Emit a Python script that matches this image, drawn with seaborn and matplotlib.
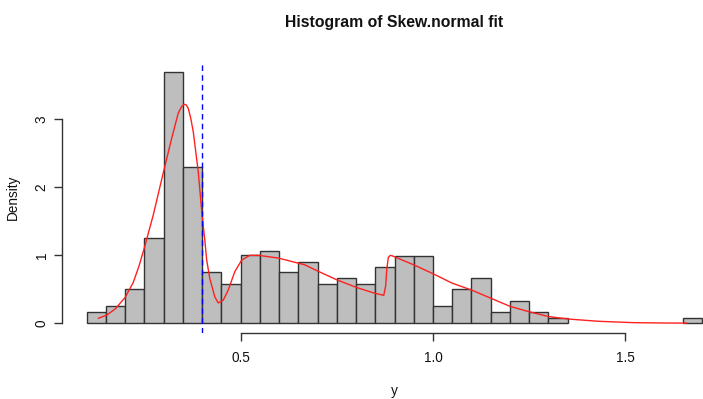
import numpy as np
import pandas as pd
import matplotlib
matplotlib.use("Agg")
import matplotlib.pyplot as plt
import seaborn as sns

# histogram bins (width 0.05, from 0.10 to 1.70) and their densities
bin_left = [0.10, 0.15, 0.20, 0.25, 0.30, 0.35, 0.40, 0.45, 0.50, 0.55, 0.60,
            0.65, 0.70, 0.75, 0.80, 0.85, 0.90, 0.95, 1.00, 1.05, 1.10, 1.15,
            1.20, 1.25, 1.30, 1.35, 1.40, 1.45, 1.50, 1.55, 1.60, 1.65]
density = [0.167, 0.25, 0.50, 1.25, 3.70, 2.30, 0.75, 0.58, 1.00, 1.07, 0.75,
           0.90, 0.58, 0.66, 0.58, 0.83, 0.99, 0.99, 0.25, 0.50, 0.66, 0.167,
           0.33, 0.167, 0.083, 0, 0, 0, 0, 0, 0, 0.083]
bin_width = 0.05

# fitted skew-normal mixture curve
fit_x = [0.130, 0.152, 0.174, 0.200, 0.221, 0.236, 0.251, 0.273, 0.299, 0.321,
         0.338, 0.347, 0.354, 0.359, 0.364, 0.370, 0.377, 0.390, 0.400, 0.407,
         0.412, 0.420, 0.433, 0.442, 0.455, 0.468, 0.485, 0.503, 0.524, 0.546,
         0.598, 0.667, 0.700, 0.750, 0.800, 0.850, 0.866, 0.872, 0.877, 0.880,
         0.884, 0.889, 0.895, 0.950, 1.000, 1.050, 1.100, 1.150, 1.200, 1.250,
         1.300, 1.350, 1.430, 1.520, 1.600, 1.660]
fit_y = [0.074, 0.12, 0.21, 0.38, 0.60, 0.84, 1.13, 1.59, 2.21, 2.72,
         3.09, 3.19, 3.22, 3.21, 3.16, 3.03, 2.82, 2.23, 1.59, 1.23,
         0.93, 0.66, 0.39, 0.30, 0.34, 0.49, 0.76, 0.93, 1.00, 1.00,
         0.96, 0.86, 0.77, 0.64, 0.53, 0.44, 0.42, 0.41, 0.55, 0.80,
         0.97, 1.00, 0.99, 0.86, 0.73, 0.59, 0.49, 0.37, 0.25, 0.17,
         0.10, 0.064, 0.03, 0.01, 0.005, 0.003]
cutoff = 0.40

sns.set_theme(style="white")
plt.rcParams['font.family'] = ['Liberation Sans', 'DejaVu Sans']

edges = list(bin_left) + [bin_left[-1] + bin_width]
df = pd.DataFrame({'x': np.array(bin_left) + bin_width / 2, 'w': density})

fig = plt.figure(figsize=(7.03, 3.99), dpi=100)
ax = fig.add_axes([62 / 703, 65.6 / 399, 665 / 703, 271.8 / 399])

sns.histplot(data=df, x='x', weights='w', bins=edges, stat='count',
             color='#BEBEBE', edgecolor='#333333', linewidth=1.0, alpha=1,
             ax=ax)
for p in ax.patches:
    if p.get_height() == 0:
        p.set_visible(False)

sns.lineplot(x=fit_x, y=fit_y, sort=False, estimator=None, color='#FF2020',
             linewidth=1.0, ax=ax)
ax.axvline(cutoff, color='#0000FF', linestyle=(0, (4, 3)), linewidth=1.0)

ax.set_xlim(0.036, 1.764)
ax.set_ylim(-0.148, 3.848)

for s in ['top', 'right']:
    ax.spines[s].set_visible(False)
ax.spines['bottom'].set_bounds(0.5, 1.5)
ax.spines['left'].set_bounds(0, 3)
for s in ['bottom', 'left']:
    ax.spines[s].set_color('#333333')
    ax.spines[s].set_linewidth(1.0)

ax.set_xticks([0.5, 1.0, 1.5])
ax.set_xticklabels(['0.5', '1.0', '1.5'])
ax.set_yticks([0, 1, 2, 3])
ax.tick_params(axis='both', direction='out', length=5.5, width=1.0,
               color='#333333', labelsize=9.8, labelcolor='#111111',
               bottom=True, left=True)
ax.tick_params(axis='x', pad=7)
ax.tick_params(axis='y', pad=4)
plt.setp(ax.get_yticklabels(), rotation=90, va='center')

ax.set_xlabel('y', fontsize=9.8, color='#111111')
ax.xaxis.set_label_coords(0.5, -0.211)
ax.xaxis.label.set_va('center')
ax.set_ylabel('Density', fontsize=9.8, color='#111111')
ax.yaxis.set_label_coords(-0.0741, 0.5)
ax.yaxis.label.set_va('center')

ax.set_title('Histogram of Skew.normal fit', fontsize=11.3,
             fontweight='bold', y=1.113, va='center', color='#111111')

fig.savefig('out.png', dpi=100)
